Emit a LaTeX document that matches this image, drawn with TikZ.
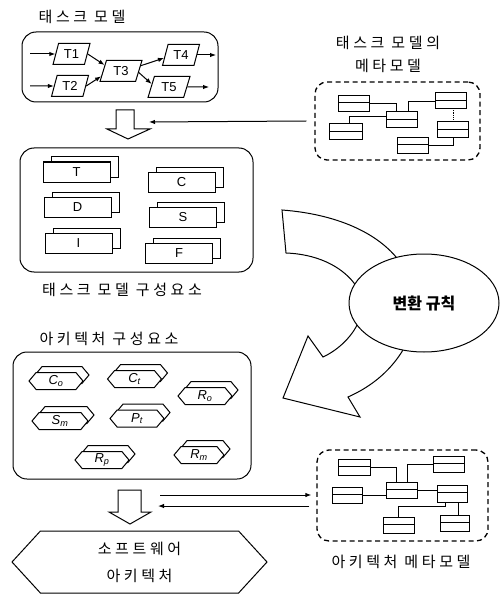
\documentclass[tikz,border=0pt]{standalone}
\usepackage{fontspec}
\setmainfont{Liberation Sans}
\newfontfamily\kr[LetterSpace=24]{Noto Sans CJK KR}
\newfontfamily\krb{Noto Sans CJK KR}
\usetikzlibrary{shapes.geometric,shapes.symbols,shadows,calc,arrows.meta}
\begin{document}
\begin{tikzpicture}[x=1pt,y=-1pt,line width=1pt,
  >={Latex[length=6pt,width=4.5pt]},
  lbl/.style={font=\kr\fontsize{15}{23}\selectfont, inner sep=0pt},
  rbox/.style={draw, rounded corners=14pt, inner sep=0pt},
  dbox/.style={draw, line width=1.3pt, dash pattern=on 5pt off 3.5pt, rounded corners=12pt, inner sep=0pt},
  task/.style={draw, trapezium, trapezium left angle=70, trapezium right angle=110,
    trapezium stretches=true, minimum width=37, minimum height=21, inner sep=0pt,
    font=\fontsize{13}{13}\selectfont},
  doc/.style={draw, fill=white, minimum width=67, minimum height=20, inner sep=0pt,
    font=\fontsize{13}{13}\selectfont,
    general shadow={shadow xshift=8pt, shadow yshift=5pt, draw, fill=white}},
  hexa/.style={draw, fill=white, signal, signal to=east and west, signal pointer angle=100,
    minimum width=54, minimum height=17, inner sep=0pt, font=\fontsize{13}{13}\selectfont\itshape,
    general shadow={shadow xshift=6pt, shadow yshift=6pt, draw, fill=white}},
  cls/.style={draw, fill=white, minimum width=31, minimum height=16, inner sep=0pt,
    path picture={\draw[line width=0.8pt] ($(path picture bounding box.north west)!0.45!(path picture bounding box.south west)$) -- ($(path picture bounding box.north east)!0.45!(path picture bounding box.south east)$);}},
  link/.style={line width=0.8pt}
]
\useasboundingbox (0,0) rectangle (500,596);

% ---- task model
\node[lbl] (tmtitle) at (82,17) {태스크 모델};
\node[rbox, minimum width=196, minimum height=70] (tm) at (120,67) {};
\node[task] (T1) at (71.5,54) {T1};
\node[task] (T2) at (70,86) {T2};
\node[task, minimum width=42] (T3) at (121,71) {T3};
\node[task] (T4) at (181,55) {T4};
\node[task, minimum width=42] (T5) at (169,87) {T5};
\coordinate (i1) at (30,54);
\coordinate (i2) at (30,86);
\coordinate (o1) at (216,55);
\coordinate (o2) at (209,87);
\draw[->] (i1) -- (T1.west);
\draw[->] (i2) -- (T2.west);
\draw[->] (T1.east) -- (T3.160);
\draw[->] (T2.east) -- (T3.195);
\draw[->] (T3.15) -- (T4.190);
\draw[->] (T3.-5) -- (T5.170);
\draw[->] (T4.east) -- (o1);
\draw[->] (T5.east) -- (o2);

% hollow arrow 1
\draw (116,110) -- (134,110) -- (134,129) -- (150,129) -- (128,139) -- (107,129) -- (116,129) -- cycle;
\coordinate (ha1) at (149,122);

% ---- task metamodel
\node[lbl, align=center] (mmtitle) at (388,54) {태스크 모델의\\메타모델};
\node[dbox, minimum width=165, minimum height=78] (mm1) at (397.5,121) {};
\node[cls] (a1) at (353.5,103.5) {};
\node[cls, minimum width=33] (a2) at (345.5,132) {};
\node[cls] (a3) at (401.5,120) {};
\node[cls] (a4) at (450.5,101) {};
\node[cls] (a5) at (453,130) {};
\node[cls] (a6) at (412.5,145.5) {};
\draw[link] (a1.east) -| ([xshift=-5.5pt]a3.north);
\draw[link] ([xshift=6.5pt]a3.north) |- (a4.west);
\draw[link] ([xshift=3.5pt]a2.north) |- ([yshift=4pt]a3.west);
\draw[link, densely dotted] (a5.north) -- (a5.north |- a4.south);
\draw[link] (a6.east) -| (a5.south);
\draw[->] ([xshift=-8pt]mm1.west) -- (ha1);

% ---- task model components
\node[rbox, minimum width=233, minimum height=124] (tc) at (136.5,210) {};
\node[doc] (dT) at (76.5,172) {T};
\node[doc] (dD) at (77.5,207) {D};
\node[doc] (dI) at (78.5,243) {I};
\node[doc] (dC) at (181.5,182.5) {C};
\node[doc] (dS) at (183,217.5) {S};
\node[doc] (dF) at (179,253) {F};
\node[lbl] (tctitle) at (122,290) {태스크 모델 구성요소};

% ---- transformation arrow
\draw[fill=white] (282,210) .. controls (335,214) and (378,232) .. (400,262)
  .. controls (420,290) and (418,330) .. (403,350)
  .. controls (392,368) and (375,385) .. (348,397)
  -- (360,417) -- (283,398) -- (308,336) -- (323,357)
  .. controls (338,350) and (350,338) .. (356,327)
  .. controls (365,310) and (362,295) .. (354,283)
  .. controls (340,265) and (315,254) .. (286,253) -- cycle;
\node[draw, fill=white, ellipse, minimum width=150, minimum height=98, inner sep=0pt,
  font=\krb\bfseries\fontsize{16}{16}\selectfont] (rule) at (424,303) {변환 규칙};

% ---- architecture components
\node[lbl] (actitle) at (109,339) {아키텍처 구성요소};
\node[rbox, minimum width=238, minimum height=127] (ac) at (132,415.5) {};
\node[hexa] (hCo) at (56,381) {C\textsubscript{o}};
\node[hexa] (hCt) at (134.5,379) {C\textsubscript{t}};
\node[hexa] (hRo) at (205,396) {R\textsubscript{o}};
\node[hexa, minimum width=56] (hSm) at (60,421) {S\textsubscript{m}};
\node[hexa] (hPt) at (137,418.5) {P\textsubscript{t}};
\node[hexa] (hRp) at (102,460) {R\textsubscript{p}};
\node[hexa, minimum width=50] (hRm) at (199,455) {R\textsubscript{m}};

% hollow arrow 2
\draw (118,490) -- (141,490) -- (141,512) -- (151,512) -- (130,524) -- (109,512) -- (118,512) -- cycle;
\coordinate (da1) at (160,495);
\coordinate (da2) at (158,506);

% ---- architecture metamodel
\node[dbox, minimum width=171, minimum height=91] (mm2) at (402.5,495.5) {};
\node[cls, minimum width=32] (b1) at (354,467) {};
\node[cls, minimum width=30] (b2) at (347,495.5) {};
\node[cls] (b3) at (401.5,490) {};
\node[cls] (b4) at (448.5,464) {};
\node[cls, minimum width=30, minimum height=17] (b5) at (452,493.5) {};
\node[cls] (b6) at (398.5,525) {};
\node[cls, minimum width=29] (b7) at (454.5,523) {};
\draw[link] (b1.east) -| ([xshift=-5.5pt]b3.north);
\draw[link] ([xshift=5.5pt]b3.north) |- (b4.west);
\draw[link] (b2.east) -- (b2.east -| b3.west);
\draw[link] (b3.east) -- (b3.east -| b5.west);
\draw[link] (b6.north) -- ++(0,-10) -| ([xshift=-7pt]b5.south);
\draw[link] ([xshift=6pt]b5.south) -- ([xshift=6pt]b5.south |- b7.north);
\draw[->, shorten >=5pt] (da1) -- (da1 -| mm2.west);
\draw[->, shorten <=7pt] (da2 -| mm2.west) -- (da2);
\node[lbl] (amtitle) at (401,562) {아키텍처 메타모델};

% ---- software architecture
\node[draw, signal, signal to=east and west, signal pointer angle=95,
  minimum width=255, minimum height=62, inner sep=0pt, align=center,
  font=\kr\fontsize{15}{27}\selectfont] (sw) at (139.5,562) {소프트웨어\\아키텍처};
\end{tikzpicture}
\end{document}
